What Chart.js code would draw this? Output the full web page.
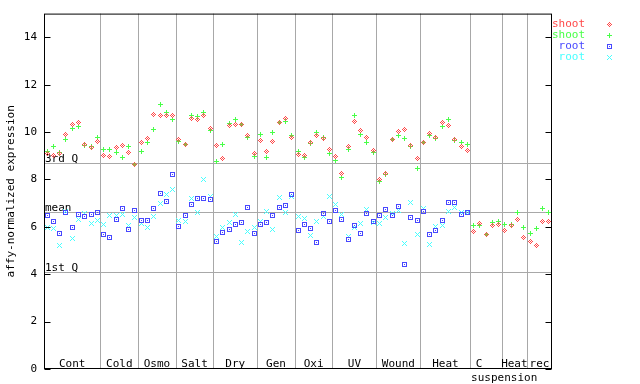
<!DOCTYPE html>
<html><head><meta charset="utf-8">
<script src="https://cdn.jsdelivr.net/npm/chart.js@4/dist/chart.umd.min.js"></script>
<style>html,body{margin:0;padding:0;background:#fff;overflow:hidden}#wrap{width:640px;height:384px}</style>
</head><body><div id="wrap"><canvas id="c" width="640" height="384"></canvas></div>
<script>
// ---- data ----
const groupLabels = ['Cont','Cold','Osmo','Salt','Dry','Gen','Oxi','UV','Wound','Heat','C\nsuspension','Heat','rec'];
const groupSizes  = [9,6,6,6,7,6,6,7,7,8,5,4,4];
const yTicks = [0,2,4,6,8,10,12,14];
const refLabels = ['3rd Q','mean','1st Q'];
const refValues = [8.68,6.61,4.08];
const seriesNames = ['shoot','shoot','root','root'];
const shoot1 = [9.1,9.03,9.1,9.88,10.3,10.42,9.47,9.33,9.6,
 9.02,8.98,9.33,9.45,9.14,8.62,
 9.56,9.74,10.75,10.72,10.72,10.69,
 9.69,9.49,10.58,10.53,10.7,10.15,
 9.44,8.89,10.28,10.32,10.3,9.86,9.1,
 9.65,9.18,9.6,10.41,10.58,9.77,
 9.06,9.02,9.56,9.86,9.73,9.27,
 8.97,8.26,9.4,10.45,10.07,9.77,9.23,
 8.0,8.26,9.69,10.04,10.11,9.44,8.89,
 9.56,9.94,9.77,10.41,10.28,9.69,9.4,9.23,
 5.81,6.15,5.68,6.06,6.1,
 5.85,6.06,6.33,5.56,
 5.39,5.23,6.23,6.23];
const shoot2 = [9.16,9.37,9.12,9.7,10.17,10.25,9.44,9.41,9.75,
 9.27,9.27,9.14,8.93,9.37,8.62,
 9.18,9.56,10.11,11.17,10.84,10.55,
 9.6,9.48,10.7,10.65,10.84,10.07,
 8.76,9.48,10.37,10.53,10.32,9.77,8.97,
 9.89,8.93,9.99,10.41,10.45,9.86,
 9.18,8.93,9.52,9.99,9.77,9.1,
 8.8,8.09,9.27,10.7,9.9,9.56,9.14,
 7.92,8.21,9.69,9.86,9.73,9.4,8.47,
 9.56,9.86,9.73,10.24,10.53,9.65,9.56,9.48,
 6.06,6.06,5.68,6.19,6.23,
 6.1,6.1,6.61,5.98,
 5.7,5.94,6.78,6.61];
const root1 = [6.49,6.23,5.72,6.6,5.98,6.53,6.44,6.53,6.61,
 5.68,5.56,6.32,6.78,5.89,6.7,
 6.27,6.27,6.78,7.41,7.07,8.21,
 6.02,6.48,6.95,7.2,7.2,7.16,
 5.39,5.77,5.89,6.1,6.19,6.82,5.72,
 6.1,6.19,6.48,6.82,6.91,7.37,
 5.85,6.1,5.94,5.34,6.57,6.23,
 6.69,6.32,5.47,6.06,5.72,6.57,6.23,
 6.49,6.74,6.49,6.86,4.42,6.4,6.27,
 6.65,5.68,5.85,6.27,7.03,7.03,6.53,6.61];
const root2 = [5.98,5.94,5.22,6.65,5.51,6.32,6.57,6.15,6.27,
 6.1,6.49,6.49,6.53,6.06,6.4,
 6.15,5.98,6.44,6.99,7.37,7.58,
 6.27,6.23,7.2,6.61,8.0,7.29,
 5.6,5.98,6.19,6.53,5.34,5.81,5.98,
 6.23,6.65,5.89,7.24,6.61,7.29,
 6.44,6.36,5.64,6.23,6.44,7.29,
 6.95,6.53,5.6,5.98,6.15,6.74,6.19,
 6.15,6.4,6.57,6.69,5.3,7.03,5.68,
 6.78,5.26,6.02,6.06,6.65,6.82,6.61,6.61];

// ---- styling ----
const colors = ['#ff4848','#48ff48','#4848ff','#48ffff'];
const kinds = ['diamond','plus','square','cross'];
const FONT = '11px "DejaVu Sans Mono", monospace';

function makeMarker(color, kind){
  const c = document.createElement('canvas'); c.width = 5; c.height = 5;
  const g = c.getContext('2d'); g.fillStyle = color;
  for (let dy=-2; dy<=2; dy++) for (let dx=-2; dx<=2; dx++){
    const ax=Math.abs(dx), ay=Math.abs(dy); let on=false;
    if (kind==='diamond') on = (ax+ay===2)||(ax+ay===0);
    else if (kind==='plus') on = (dx===0||dy===0);
    else if (kind==='square') on = (ax===2||ay===2)||(dx===0&&dy===0);
    else on = (ax===ay);
    if (on) g.fillRect(dx+2, dy+2, 1, 1);
  }
  return c;
}
const markers = kinds.map((k,i)=>makeMarker(colors[i],k));
const nCats = groupSizes.reduce((a,b)=>a+b,0);
const toPts = arr => arr.map((v,i)=>({x:i+0.5,y:v})).filter(p=>p.y!=null);
const allSeries = [shoot1, shoot2, root1, root2];

const deco = {
  id:'deco',
  beforeDatasetsDraw(chart){
    const {ctx, chartArea:a, scales:{x,y}} = chart;
    ctx.save();
    ctx.strokeStyle = '#a8a8a8'; ctx.lineWidth = 1;
    let cum = 0;
    for (let g=0; g<groupSizes.length-1; g++){
      cum += groupSizes[g];
      const px = Math.round(x.getPixelForValue(cum))+0.5;
      ctx.beginPath(); ctx.moveTo(px, a.top); ctx.lineTo(px, a.bottom); ctx.stroke();
    }
    ctx.fillStyle = '#000'; ctx.font = FONT; ctx.textAlign='left'; ctx.textBaseline='bottom';
    refValues.forEach((v,i)=>{
      const py = Math.round(y.getPixelForValue(v))+0.5;
      ctx.beginPath(); ctx.moveTo(a.left, py); ctx.lineTo(a.right, py); ctx.stroke();
      ctx.fillText(refLabels[i], a.left+1, py+1);
    });
    ctx.textAlign='center'; ctx.textBaseline='middle';
    cum = 0;
    groupLabels.forEach((lab,g)=>{
      const c = x.getPixelForValue(cum + groupSizes[g]/2);
      cum += groupSizes[g];
      const lines = lab.split('\n');
      if (lines.length>1){
        ctx.fillText(lines[0], c-7, a.bottom-5);
        ctx.fillText(lines[1], c+18, a.bottom+9);
      } else ctx.fillText(lab, c, a.bottom-5);
    });
    ctx.restore();
    ctx.imageSmoothingEnabled = false;
  },
  afterDatasetsDraw(chart){
    const {ctx, chartArea:a, scales:{y}} = chart;
    ctx.save();
    ctx.strokeStyle = '#000'; ctx.lineWidth = 1;
    const L = a.left+0.5, R = a.right-0.5, T = a.top+0.5, B = a.bottom-0.5;
    ctx.strokeRect(L, T, R-L, B-T);
    yTicks.forEach(v=>{
      const py = Math.round(y.getPixelForValue(v))+0.5;
      ctx.beginPath(); ctx.moveTo(L, py); ctx.lineTo(L+6, py); ctx.moveTo(R-6, py); ctx.lineTo(R, py); ctx.stroke();
    });
    ctx.font = FONT; ctx.textAlign='right'; ctx.textBaseline='middle';
    ctx.imageSmoothingEnabled = false;
    seriesNames.forEach((n,i)=>{
      const ly = 24 + i*11;
      ctx.fillStyle = colors[i];
      ctx.fillText(n, 585, ly);
      ctx.drawImage(markers[i], 607, ly-2);
    });
    ctx.restore();
  }
};

new Chart(document.getElementById('c'), {
  type:'scatter',
  data:{ datasets: allSeries.map((s,i)=>({
    label: seriesNames[i], data: toPts(s),
    pointStyle: markers[i], pointRadius: 2.5, pointHoverRadius: 2.5,
    borderColor: colors[i], backgroundColor: colors[i]
  }))},
  options:{
    responsive:false, animation:false, devicePixelRatio:1,
    layout:{ padding:{ left:0, top:13, right:88, bottom:15 } },
    plugins:{ legend:{display:false}, tooltip:{enabled:false} },
    events:[],
    scales:{
      x:{ type:'linear', display:false, min:0, max:nCats },
      y:{ type:'linear', min:0, max:15,
        afterBuildTicks(s){ s.ticks = yTicks.map(v=>({value:v})); },
        afterFit(s){ s.width = 44; },
        grid:{ display:false, drawTicks:false },
        border:{ display:false },
        ticks:{ color:'#000', font:{ family:'"DejaVu Sans Mono", monospace', size:11 }, padding:7 },
        title:{ display:true, text:'affy-normalized expression', color:'#000',
          font:{ family:'"DejaVu Sans Mono", monospace', size:11 }, padding:{top:5,bottom:0} }
      }
    }
  },
  plugins:[deco]
});
</script></body></html>
